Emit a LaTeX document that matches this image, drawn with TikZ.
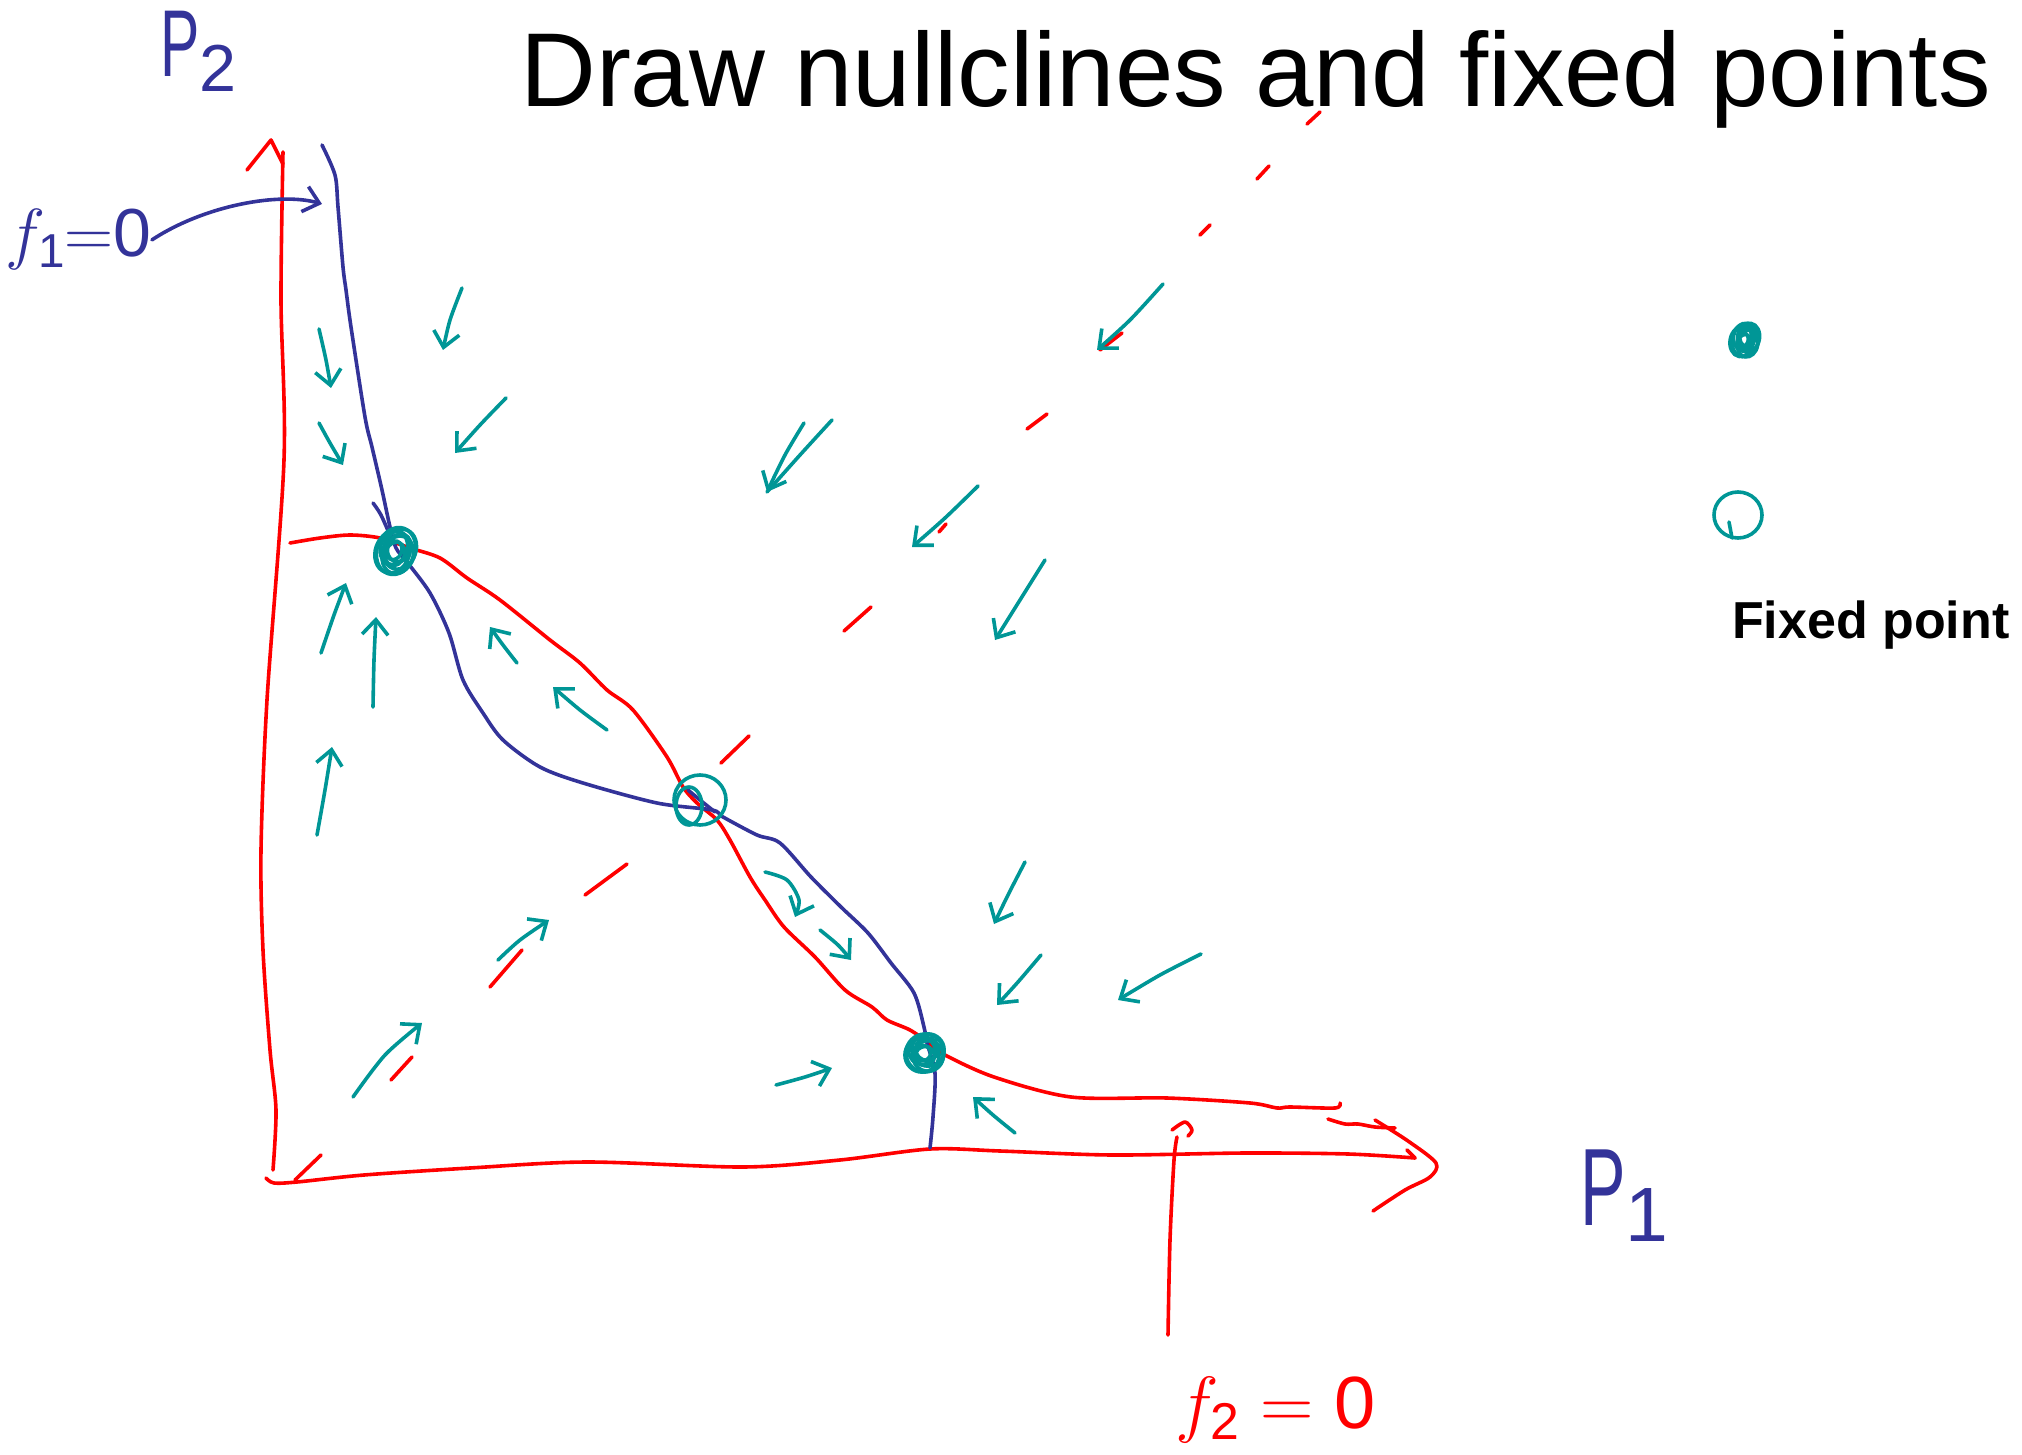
\RequirePackage{fix-cm}
\documentclass[tikz,border=0pt]{standalone}
\usepackage{fontspec}
\setmainfont{Liberation Sans}
\usetikzlibrary{arrows.meta}
\definecolor{fblue}{RGB}{51,51,153}
\definecolor{fred}{RGB}{255,0,0}
\definecolor{fteal}{RGB}{0,150,150}
\tikzset{
  nullone/.style={draw=fblue, line width=3.6pt, line cap=round, line join=round},
  nulltwo/.style={draw=fred, line width=3.6pt, line cap=round, line join=round},
  flow/.style={draw=fteal, line width=3.6pt, line cap=round, line join=round},
  sepdash/.style={draw=fred, line width=3.6pt, line cap=round},
}
\newcommand{\stableFix}[5]{%
  \foreach \s/\dx/\dy in {1/0/0, 0.9/-3/2, 0.8/3/3, 0.7/-3/-2, 0.6/2/-4, 0.5/0/3, 0.4/-2/0, 0.85/3/-3}
    \draw[flow, shift={(#1,#2)}, rotate=#5] (\dx,\dy) ellipse ({#3*\s*1pt} and {#4*\s*1pt});
}
\newcommand{\handP}{\scalebox{0.62}[1]{$\mathrm{P}$}}

\begin{document}
\begin{tikzpicture}[x=1pt, y=-1pt, >={Straight Barb[length=15pt,width=26pt]}]
    \useasboundingbox (0,0) rectangle (2022,1455);

    % Texts
    \node[anchor=base west, inner sep=0, font=\fontsize{105}{120}\selectfont] (title) at (520,107) {Draw nullclines and fixed points};
    \node[anchor=base west, inner sep=0, font=\bfseries\fontsize{52}{60}\selectfont] (fixlabel) at (1732,638) {Fixed point};
    \node[anchor=base west, inner sep=0, text=fblue, font=\fontsize{95}{100}\selectfont] (ptwo) at (160,77) {\handP$_{\mathrm{2}}$};
    \node[anchor=base west, inner sep=0, text=fblue, font=\fontsize{110}{120}\selectfont] (pone) at (1580,1225) {\handP$_{\mathrm{1}}$};
    \node[anchor=base west, inner sep=0, text=fblue, font=\fontsize{68}{70}\selectfont] (fone) at (5,257) {$f_{\mathrm{1}}{=}\mathrm{0}$};
    \node[anchor=base west, inner sep=0, text=fred, font=\fontsize{74}{80}\selectfont] (ftwo) at (1175,1428) {$f_{\mathrm{2}}=\mathrm{0}$};

    % Axes
    \draw[nulltwo] plot[smooth] coordinates {(273,1170) (276,1110) (270,1050) (263,950) (261,850) (267,700) (284,460) (281,300) (283,152)};
    \draw[nulltwo] (247,170) -- (271,140) -- (283,164);
    \draw[nulltwo] plot[smooth] coordinates {(266,1178) (274,1183) (297,1182) (364,1175) (470,1168) (587,1162) (743,1167) (840,1160) (930,1149) (1000,1151) (1112,1155) (1246,1153) (1348,1154) (1415,1158)};
    \draw[nulltwo] (1407,1150) -- (1415,1158);
    \draw[nulltwo] plot[smooth] coordinates {(1375,1120) (1408,1141) (1436,1163) (1430,1177) (1405,1190) (1373,1211)};
    \draw[nulltwo] plot[smooth] coordinates {(1328,1119) (1345,1124) (1358,1124) (1375,1127) (1395,1128)};

    % Nullcline f2 = 0
    \draw[nulltwo] plot[smooth] coordinates {(290,543) (320,538) (350,535) (380,538) (410,548) (440,558) (467,578) (500,600) (550,640) (580,663) (607,690) (633,710) (667,757) (683,787) (697,803) (717,820) (730,840) (750,877) (765,900) (784,927) (815,957) (845,990) (872,1007) (887,1020) (910,1030) (929,1043) (945,1055) (994,1077) (1071,1097) (1167,1098) (1250,1103) (1277,1108) (1290,1107) (1335,1108) (1340,1103)};
    \draw[nulltwo] plot[smooth] coordinates {(1168,1335) (1170,1240) (1174,1160) (1177,1137)};
    \draw[nulltwo] plot[smooth] coordinates {(1172,1130) (1185,1122) (1192,1130) (1188,1136)};

    % Separatrix
    \draw[sepdash] (295,1180) -- (321,1155) (391,1080) -- (412,1057) (490,987) -- (522,950)
        (585,895) -- (627,864) (721,763) -- (749,736) (844,631) -- (871,607) (939,532) -- (946,524)
        (1027,429) -- (1047,414) (1100,350) -- (1122,333) (1200,235) -- (1210,225)
        (1257,179) -- (1269,166) (1307,124) -- (1320,112);

    % Nullcline f1 = 0
    \draw[nullone] plot[smooth] coordinates {(322,145) (335,175) (338,207) (343,267) (346,290) (351,327) (365,417) (372,447) (382,490) (390,527) (396,548) (407,562) (430,593) (449,633) (463,680) (483,713) (503,740) (540,767) (583,783) (657,803) (712,810) (723,817) (757,835) (780,843) (811,877) (841,907) (868,933) (891,963) (914,993) (924,1027) (927,1043) (935,1073) (933,1117) (930,1148)};
    \draw[nullone] plot[smooth] coordinates {(373,503) (381,515) (392,540)};
    \draw[nullone] plot[smooth] coordinates {(688,790) (700,800) (715,812)};
    \coordinate (fonetip) at (322,204);
    \draw[nullone, ->] (fone.east) .. controls (205,205) and (280,192) .. (fonetip);

    % Flow
    \draw[flow, ->] plot[smooth] coordinates {(319,329) (326,360) (331,388)};
    \draw[flow, ->] plot[smooth] coordinates {(319,423) (330,443) (343,465)};
    \draw[flow, ->] plot[smooth] coordinates {(462,288) (450,320) (443,350)};
    \draw[flow, ->] plot[smooth] coordinates {(506,398) (480,425) (455,453)};
    \draw[flow, ->] plot[smooth] coordinates {(321,653) (334,615) (346,583)};
    \draw[flow, ->] plot[smooth] coordinates {(373,707) (374,660) (376,617)};
    \draw[flow, ->] plot[smooth] coordinates {(317,835) (325,790) (332,747)};
    \draw[flow, ->] plot[smooth] coordinates {(517,663) (503,645) (490,627)};
    \draw[flow, ->] plot[smooth] coordinates {(607,730) (580,710) (553,687)};
    \draw[flow, ->] plot[smooth] coordinates {(765,872) (787,880) (799,900) (795,917)};
    \draw[flow, ->] plot[smooth] coordinates {(820,930) (838,945) (851,960)};
    \draw[flow, ->] plot[smooth] coordinates {(1025,862) (1008,895) (994,924)};
    \draw[flow, ->] plot[smooth] coordinates {(1041,955) (1018,982) (997,1005)};
    \draw[flow, ->] plot[smooth] coordinates {(1201,954) (1160,975) (1118,1000)};
    \draw[flow, ->] plot[smooth] coordinates {(776,1085) (805,1077) (832,1068)};
    \draw[flow, ->] plot[smooth] coordinates {(1015,1133) (993,1115) (973,1097)};
    \draw[flow, ->] plot[smooth] coordinates {(1163,284) (1130,320) (1097,350)};
    \draw[flow, ->] plot[smooth] coordinates {(978,486) (945,518) (912,547)};
    \draw[flow, ->] plot[smooth] coordinates {(1045,560) (1020,600) (995,640)};
    \draw[flow, ->] plot[smooth] coordinates {(804,423) (785,455) (767,492)};
    \draw[flow] plot[smooth] coordinates {(832,420) (800,455) (767,492)};
    \draw[flow, ->] plot[smooth] coordinates {(498,960) (520,940) (549,920)};
    \draw[flow, ->] plot[smooth] coordinates {(353,1097) (385,1055) (422,1023)};

    % Fixed points
    \stableFix{396}{551}{19}{24}{-20}
    \stableFix{925}{1053}{19}{19}{0}
    \draw[flow] (700,800) ellipse (26pt and 25pt);
    \draw[flow] (689,806) ellipse (13pt and 19pt);

    % Legend
    \stableFix{1745}{340}{13}{17}{-10}
    \draw[flow] (1738,515) ellipse (24pt and 23pt);
    \draw[flow] (1729,522) -- (1732,538);
\end{tikzpicture}
\end{document}
